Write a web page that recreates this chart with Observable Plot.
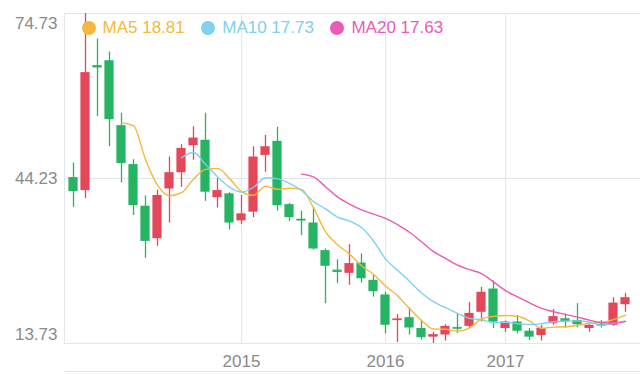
<!DOCTYPE html>
<html><head><meta charset="utf-8">
<script src="https://cdn.jsdelivr.net/npm/d3@7"></script>
<script src="https://cdn.jsdelivr.net/npm/@observablehq/plot@0.6"></script>
<style>
html,body{margin:0;padding:0;background:#fff;}
#wrap{position:relative;width:640px;height:374px;overflow:hidden;font-family:"Liberation Sans",Arial,sans-serif;}
#wrap svg{display:block;}
#legend{position:absolute;left:81.5px;top:18px;display:flex;align-items:center;font-size:17px;white-space:nowrap;line-height:normal;}
.item{display:flex;align-items:center;margin-right:16.5px;}
.dot{width:14px;height:14px;border-radius:50%;margin-right:7px;}
#slider{position:absolute;left:65px;right:0;top:371px;border-top:1px solid #dfe3ea;}
</style></head><body><div id="wrap"><div id="legend"></div><div id="slider"></div></div>
<script>
// Monthly candles (category axis; two months of 2016 absent)
const months = [
  "2013-11","2013-12",
  "2014-01","2014-02","2014-03","2014-04","2014-05","2014-06","2014-07","2014-08","2014-09","2014-10","2014-11","2014-12",
  "2015-01","2015-02","2015-03","2015-04","2015-05","2015-06","2015-07","2015-08","2015-09","2015-10","2015-11","2015-12",
  "2016-01","2016-02","2016-03","2016-04","2016-05","2016-08","2016-09","2016-10","2016-11","2016-12",
  "2017-01","2017-02","2017-03","2017-04","2017-05","2017-06","2017-07","2017-08","2017-09","2017-10","2017-11"
];
const open  = [44.4,42.0,65.1,66.0,54.0,46.8,39.1,33.1,42.3,45.3,50.3,51.3,40.7,41.4,36.4,38.0,48.5,51.1,39.4,36.7,36.0,30.9,27.3,26.7,28.6,25.4,22.7,18.1,18.5,16.5,14.9,15.3,16.7,16.9,19.5,23.8,16.5,17.7,16.0,15.2,17.4,18.3,18.0,16.5,17.3,17.1,20.9];
const close = [41.8,63.8,64.9,55.1,47.0,39.2,32.6,41.1,45.3,49.8,51.7,41.7,42.0,36.0,37.7,48.2,50.1,39.2,37.0,36.6,31.2,28.0,27.1,28.5,25.7,23.3,17.1,18.2,16.6,14.8,15.3,16.9,16.6,19.3,23.2,17.7,17.7,16.0,14.9,16.5,18.7,18.0,17.2,17.1,17.2,21.2,22.2];
const high  = [47.1,74.73,70.0,67.6,56.3,47.7,41.0,42.1,48.2,50.5,53.8,56.3,44.2,41.6,41.1,50.1,52.2,53.7,39.6,38.2,38.9,31.2,29.2,32.0,30.3,26.3,23.2,19.1,20.3,18.0,15.8,17.2,19.1,21.3,24.1,25.3,17.9,18.9,16.5,17.1,20.0,19.2,21.1,17.2,18.0,22.2,23.0];
const low   = [38.9,40.5,55.7,50.1,43.4,37.4,29.5,31.7,36.0,42.6,47.6,40.0,38.8,34.7,35.7,37.0,45.4,38.2,36.3,33.7,31.0,21.1,24.8,24.5,24.9,22.3,15.5,13.9,15.3,14.4,13.73,14.2,15.6,16.5,17.7,16.5,15.8,15.5,14.3,14.2,17.1,16.5,16.6,15.8,16.6,16.9,19.5];

const maNames  = ["MA5","MA10","MA20"];
const maWindow = [5, 10, 20];
const maLegendValues = ["18.81","17.73","17.63"];

const yTicks = [13.73, 44.23, 74.73];
const xTicks = ["2015-01","2016-01","2017-01"];
const xTickLabels = ["2015","2016","2017"];

// styles
const RED = "#e5475a", GREEN = "#25b462";
const maColors = ["#f6b83a", "#80d0ee", "#ea5ab6"];
const GRID = "#e3e6eb", LABEL = "#8a8a8a";

const data = months.map((m, i) => ({date: m, open: open[i], close: close[i], high: high[i], low: low[i]}));
const colorOf = d => d.close > d.open ? RED : GREEN;

const chart = Plot.plot({
  width: 640, height: 374,
  marginTop: 13, marginBottom: 31, marginLeft: 64, marginRight: 0,
  style: {fontFamily: '"Liberation Sans", Arial, sans-serif', background: "transparent", overflow: "visible"},
  x: {type: "band", domain: months, range: [63.4, 634.6], padding: 0, axis: null},
  y: {domain: [13.73, 74.73], axis: null},
  color: {type: "identity"},
  marks: [
    Plot.ruleY(yTicks, {y: d => d, stroke: GRID, strokeWidth: 1}),
    Plot.ruleX(xTicks, {x: d => d, stroke: GRID, strokeWidth: 1}),
    Plot.frame({anchor: "left", stroke: GRID}),
    Plot.ruleX(data, {x: "date", y1: "low", y2: "high", stroke: colorOf, strokeWidth: 1.3}),
    Plot.barY(data, {x: "date", y1: "open", y2: "close", fill: colorOf, insetLeft: 1.4, insetRight: 1.4}),
    Plot.tickY(data, {filter: d => Math.abs(d.close - d.open) < 0.5, x: "date", y: "close", stroke: colorOf, strokeWidth: 1.6, insetLeft: 1.4, insetRight: 1.4}),
    ...maWindow.map((k, i) => Plot.lineY(data, Plot.windowY({k, anchor: "end", strict: true},
      {x: "date", y: "close", stroke: maColors[i], strokeWidth: 1.4, curve: "monotone-x"}))),
    ...yTicks.map((t, i) => Plot.text([t], {
      y: d => d, text: d => d.toFixed(2), frameAnchor: "left", dx: -7, textAnchor: "end",
      lineAnchor: "bottom", dy: [-4, 5, 15][i], fill: LABEL, fontSize: 17
    })),
    Plot.text(xTicks, {x: d => d, text: (d, i) => xTickLabels[i], frameAnchor: "bottom",
      lineAnchor: "bottom", dy: 23, fill: LABEL, fontSize: 17})
  ]
});
document.getElementById("wrap").prepend(chart);

const legend = document.getElementById("legend");
maNames.forEach((n, i) => {
  const it = document.createElement("div");
  it.className = "item";
  it.style.color = maColors[i];
  const dot = document.createElement("span");
  dot.className = "dot";
  dot.style.background = maColors[i];
  const tx = document.createElement("span");
  tx.textContent = n + " " + maLegendValues[i];
  it.appendChild(dot); it.appendChild(tx);
  legend.appendChild(it);
});
</script>
</body></html>
